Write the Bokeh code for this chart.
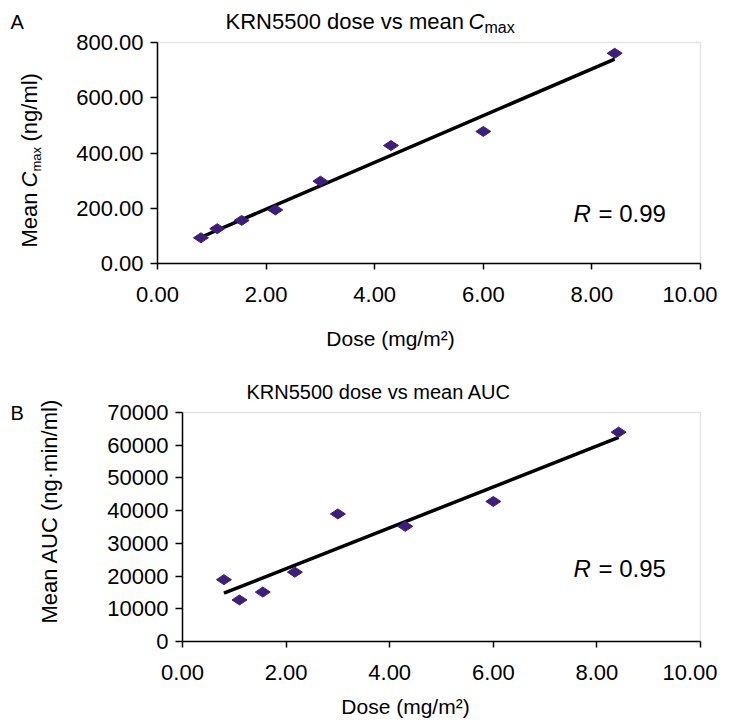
import numpy as np
from bokeh.plotting import figure
from bokeh.models import Range1d, FixedTicker, NumeralTickFormatter, Label, BoxAnnotation
from bokeh.embed import file_html
from bokeh.resources import INLINE

# ---- data ----
dose = [0.80, 1.10, 1.55, 2.17, 3.00, 4.30, 6.00, 8.42]
cmax = [93, 126, 156, 194, 298, 427, 478, 761]
auc = [18900, 12700, 15100, 21200, 39000, 35200, 42800, 64000]

x_ticks = [0, 2, 4, 6, 8, 10]
cmax_ticks = [0, 200, 400, 600, 800]
auc_ticks = [0, 10000, 20000, 30000, 40000, 50000, 60000, 70000]

title_a = "KRN5500 dose vs mean"
title_b = "KRN5500 dose vs mean AUC"
xlabel = "Dose (mg/m\u00b2)"
ylabel_b = "Mean AUC (ng\u00b7min/ml)"
r_a = "0.99"
r_b = "0.95"

FONT = "Liberation Sans"
MARK = "#3c1e7d"
BORDER = "#a6a6a6"
W = 717
BASE_SHIFT = 0.36   # correction of the rendered baseline, in font sizes


def make(yvals, ymax, yticks, yfmt, top, H, fx0, fx1, fy0, fy1):
    # fx0/fx1: page x of x=0 / x=10 ; fy0/fy1: page y of y=0 / y=ymax
    kx = (fx1 - fx0) / 10.0
    ky = (fy0 - fy1) / float(ymax)
    xr = Range1d(-fx0 / kx, 10 + (W - fx1) / kx)
    yr = Range1d(-(top + H - fy0) / ky, ymax + (fy1 - top) / ky)
    p = figure(width=W, height=H, output_backend="svg", toolbar_location=None,
               x_range=xr, y_range=yr, title=None,
               min_border_left=0, min_border_right=0, min_border_top=0, min_border_bottom=0)
    p.xgrid.visible = False
    p.ygrid.visible = False
    p.outline_line_color = None
    p.background_fill_color = "white"
    p.border_fill_color = "white"
    p.add_layout(BoxAnnotation(left=0, right=10, bottom=0, top=ymax, fill_alpha=0,
                               line_color=BORDER, line_width=1.5, level="underlay"))
    p.xaxis.ticker = FixedTicker(ticks=x_ticks)
    p.yaxis.ticker = FixedTicker(ticks=yticks)
    p.xaxis.formatter = NumeralTickFormatter(format="0.00")
    p.yaxis.formatter = NumeralTickFormatter(format=yfmt)
    p.xaxis.fixed_location = 0
    p.yaxis.fixed_location = 0
    p.xaxis.bounds = (0, 10)
    p.yaxis.bounds = (0, ymax)
    for ax in (p.xaxis[0], p.yaxis[0]):
        ax.axis_line_color = "black"
        ax.axis_line_width = 1.5
        ax.major_tick_line_color = "black"
        ax.major_tick_line_width = 1.5
        ax.major_tick_in = 0
        ax.minor_tick_line_color = None
        ax.major_label_text_font = FONT
        ax.major_label_text_font_size = "22px"
        ax.major_label_text_color = "black"
    p.xaxis.major_tick_out = 6
    p.yaxis.major_tick_out = 7
    p.xaxis.major_label_standoff = 17
    p.yaxis.major_label_standoff = 7

    slope, icpt = np.polyfit(dose, yvals, 1)
    lx = np.array([min(dose), max(dose)])
    p.line(lx, slope * lx + icpt, line_color="black", line_width=3.5)
    p.scatter(dose, yvals, marker="diamond", size=15, angle=np.pi / 2,
              fill_color=MARK, line_color=MARK)
    p._page = (top, H)
    return p


def lab(p, ax, ay, text, size, italic=False, align="left", angle=0.0):
    top, H = p._page
    if angle == 0.0:
        ay = ay - BASE_SHIFT * size
    else:
        ax = ax - BASE_SHIFT * size
    p.add_layout(Label(x=ax, y=H - (ay - top), x_units="screen", y_units="screen", text=text,
                       text_font=FONT, text_font_size=f"{size}px",
                       text_font_style="italic" if italic else "normal",
                       text_align=align, text_baseline="alphabetic",
                       angle=angle, text_color="black"))


ROT = np.pi / 2

# ---- panel A ----
pA = make(cmax, 800, cmax_ticks, "0.00", 0, 355, 157, 700, 263, 42)
lab(pA, 10, 29, "A", 20)
lab(pA, 225, 29, title_a, 22)
lab(pA, 468, 29, "C", 22, italic=True)
lab(pA, 484, 33, "max", 16)
lab(pA, 390, 346, xlabel, 21, align="center")
lab(pA, 37, 247, "Mean", 22, angle=ROT)
lab(pA, 37, 187, "C", 22, italic=True, angle=ROT)
lab(pA, 41, 171, "max", 13, angle=ROT)
lab(pA, 37, 141, "(ng/ml)", 22, angle=ROT)
lab(pA, 573, 222, "R", 24, italic=True)
lab(pA, 598, 222, "= " + r_a, 24)

# ---- panel B ----
pB = make(auc, 70000, auc_ticks, "0", 355, 365, 182, 700, 641, 412)
lab(pB, 10, 420, "B", 20)
lab(pB, 246, 399, title_b, 20)
lab(pB, 405, 714, xlabel, 21, align="center")
lab(pB, 57, 623, ylabel_b, 22, angle=ROT)
lab(pB, 573, 577, "R", 24, italic=True)
lab(pB, 598, 577, "= " + r_b, 24)

open("out.html", "w").write(file_html([pA, pB], INLINE))
